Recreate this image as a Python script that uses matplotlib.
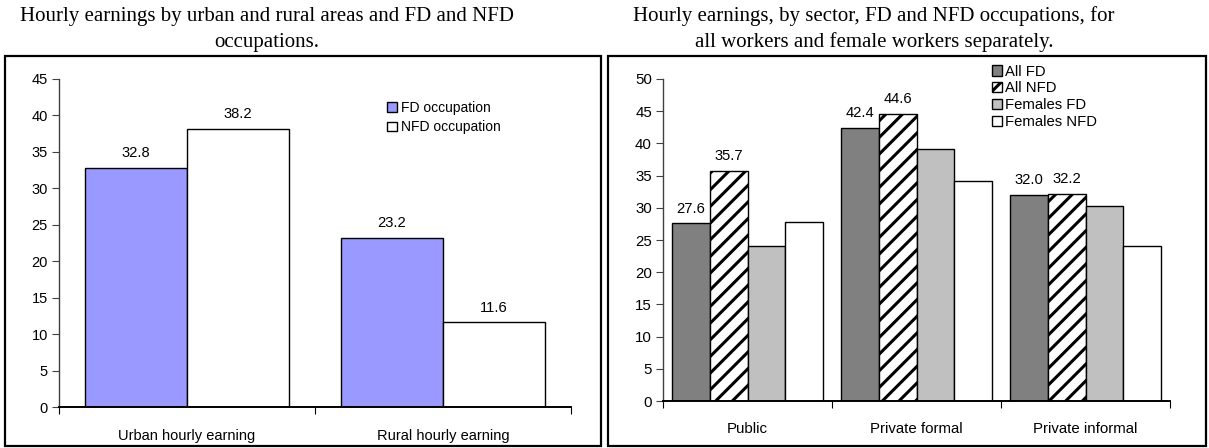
import matplotlib
matplotlib.use("Agg")
import matplotlib.pyplot as plt
from matplotlib.patches import Rectangle
import numpy as np

# ---- data ----
area_categories = ["Urban hourly earning", "Rural hourly earning"]
fd_occupation = [32.8, 23.2]
nfd_occupation = [38.2, 11.6]

sector_categories = ["Public", "Private formal", "Private informal"]
all_fd = [27.6, 42.4, 32.0]
all_nfd = [35.7, 44.6, 32.2]
females_fd = [24.1, 39.1, 30.3]
females_nfd = [27.8, 34.1, 24.1]

left_title = ["Hourly earnings by urban and rural areas and FD and NFD",
              "occupations."]
right_title = ["Hourly earnings, by sector, FD and NFD occupations, for",
               "all workers and female workers separately."]

W, H = 1209, 448
plt.rcParams["font.family"] = ["Liberation Sans", "DejaVu Sans"]
plt.rcParams["hatch.linewidth"] = 2.2
fig = plt.figure(figsize=(W / 100, H / 100), dpi=100)


def fx(px):
    return px / W


def fy(py):
    return 1 - py / H


def style_axes(ax, ymax, ncat, fs, xpad):
    ax.set_ylim(0, ymax)
    ax.set_xlim(0, ncat)
    ax.set_yticks(np.arange(0, ymax + 1, 5))
    ax.spines["top"].set_visible(False)
    ax.spines["right"].set_visible(False)
    ax.spines["left"].set_color("#404040")
    ax.spines["left"].set_linewidth(1.0)
    ax.spines["bottom"].set_linewidth(1.4)
    ax.tick_params(axis="y", direction="out", length=5, width=0.8,
                   labelsize=fs, pad=3, color="#404040")
    ax.set_xticks(np.arange(0, ncat + 1))
    ax.set_xticklabels([])
    ax.tick_params(axis="x", which="major", direction="out", length=5, width=0.8)
    ax.set_xticks(np.arange(ncat) + 0.5, minor=True)
    ax.tick_params(axis="x", which="minor", length=0, labelsize=fs, pad=xpad)


def frame_box(x0, y0, x1, y1):
    fig.add_artist(Rectangle((fx(x0), fy(y1)), fx(x1) - fx(x0), fy(y0) - fy(y1),
                             transform=fig.transFigure, fill=False,
                             edgecolor="black", linewidth=1.6))


def two_line_title(cx, lines):
    for line, base in zip(lines, (21, 47)):
        fig.text(fx(cx), fy(base), line, ha="center", va="baseline",
                 family="Liberation Serif", fontsize=15)


# ---- left panel: urban / rural ----
axL = fig.add_axes([fx(59), fy(407), fx(571) - fx(59), fy(79) - fy(407)])
bw = 0.4
x = np.arange(len(area_categories)) + 0.5
b1 = axL.bar(x - bw / 2, fd_occupation, bw, color="#9999FF", edgecolor="black",
             linewidth=1.0, label="FD occupation")
b2 = axL.bar(x + bw / 2, nfd_occupation, bw, color="white", edgecolor="black",
             linewidth=1.0, label="NFD occupation")
style_axes(axL, 45, len(area_categories), 10.5, 16)
axL.set_xticklabels(area_categories, minor=True)
for bars in (b1, b2):
    axL.bar_label(bars, labels=[f"{v:.1f}" for v in bars.datavalues],
                  padding=5.5, fontsize=10.6)
axL.legend(loc="upper left", bbox_to_anchor=(fx(387), fy(101)),
           bbox_transform=fig.transFigure, frameon=False, fontsize=10,
           handlelength=0.7, handleheight=0.7, handletextpad=0.3,
           labelspacing=0.38, borderpad=0, borderaxespad=0)

# ---- right panel: by sector ----
axR = fig.add_axes([fx(663), fy(401), fx(1170) - fx(663), fy(79) - fy(401)])
bw2 = 1 / 4.5
xs = np.arange(len(sector_categories)) + 0.5
offsets = np.array([-1.5, -0.5, 0.5, 1.5]) * bw2
r1 = axR.bar(xs + offsets[0], all_fd, bw2, color="#808080", edgecolor="black",
             linewidth=1.0, label="All FD")
r2 = axR.bar(xs + offsets[1], all_nfd, bw2, color="white", edgecolor="black",
             hatch="//", linewidth=1.0, label="All NFD")
r3 = axR.bar(xs + offsets[2], females_fd, bw2, color="#C0C0C0", edgecolor="black",
             linewidth=1.0, label="Females FD")
r4 = axR.bar(xs + offsets[3], females_nfd, bw2, color="white", edgecolor="black",
             linewidth=1.0, label="Females NFD")
style_axes(axR, 50, len(sector_categories), 10.8, 15)
axR.set_xticklabels(sector_categories, minor=True)
for bars in (r1, r2):
    axR.bar_label(bars, labels=[f"{v:.1f}" for v in bars.datavalues],
                  padding=5.5, fontsize=10.6)
axR.legend(loc="upper left", bbox_to_anchor=(fx(992), fy(64.5)),
           bbox_transform=fig.transFigure, frameon=False, fontsize=10.7,
           handlelength=0.7, handleheight=0.7, handletextpad=0.2,
           labelspacing=0.2, borderpad=0, borderaxespad=0)

# ---- titles and panel frames ----
two_line_title(267, left_title)
two_line_title(874, right_title)
frame_box(5, 56, 601, 446)
frame_box(608, 56, 1206, 446)

fig.savefig("out.png", dpi=100)
